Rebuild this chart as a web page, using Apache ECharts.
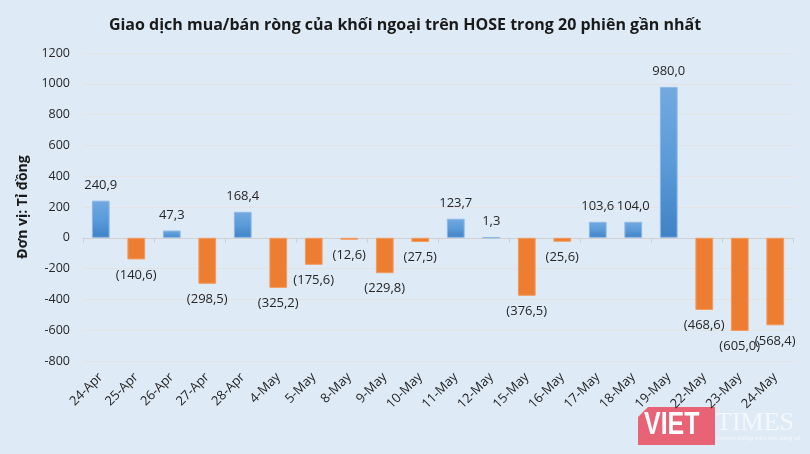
<!DOCTYPE html>
<html><head><meta charset="utf-8">
<script src="https://cdn.jsdelivr.net/npm/echarts@6/dist/echarts.min.js"></script>
<style>html,body{margin:0;padding:0;}#c{width:810px;height:454px;}</style>
</head><body><div id="c"></div>
<script>
const categories = ['24-Apr','25-Apr','26-Apr','27-Apr','28-Apr','4-May','5-May','8-May','9-May','10-May','11-May','12-May','15-May','16-May','17-May','18-May','19-May','22-May','23-May','24-May'];
const values = [240.9,-140.6,47.3,-298.5,168.4,-325.2,-175.6,-12.6,-229.8,-27.5,123.7,1.3,-376.5,-25.6,103.6,104.0,980.0,-468.6,-605.0,-568.4];
const yTicks = {min:-800, max:1200, interval:200};

const fmt = v => {
  const s = Math.abs(v).toFixed(1).replace('.', ',');
  return v < 0 ? '(' + s + ')' : s;
};
const blue = new echarts.graphic.LinearGradient(0,0,0,1,[{offset:0,color:'#72a9e0'},{offset:0.5,color:'#5b9bd9'},{offset:1,color:'#3f82c6'}]);
const chart = echarts.init(document.getElementById('c'));
chart.setOption({
  backgroundColor: '#deeaf6',
  animation: false,
  title: {text:'Giao dịch mua/bán ròng của khối ngoại trên HOSE trong 20 phiên gần nhất', left:'center', top:12,
    textStyle:{fontFamily:'Open Sans', fontWeight:'bold', fontSize:16, color:'#1a1a1a'}},
  grid: {left:83, right:17, top:53, bottom:93, containLabel:false, outerBoundsMode:'none'},
  xAxis: [{type:'category', data:categories, position:'bottom',
    axisLine:{show:false, onZero:false}, axisTick:{show:false},
    axisLabel:{rotate:45, interval:0, fontFamily:'Open Sans', fontSize:13, color:'#1f1f1f', margin:14}},
   {type:'category', data:categories, position:'bottom',
    axisLine:{show:true, onZero:true, lineStyle:{color:'#d0d0d0'}},
    axisTick:{show:true, length:5, lineStyle:{color:'#d0d0d0'}},
    axisLabel:{show:false}}],
  yAxis: {type:'value', min:yTicks.min, max:yTicks.max, interval:yTicks.interval,
    name:'Đơn vị: Tỉ đồng', nameLocation:'middle', nameGap:52,
    nameTextStyle:{fontFamily:'Open Sans', fontWeight:'bold', fontSize:14, color:'#1a1a1a'},
    axisLine:{show:false}, axisTick:{show:false},
    splitLine:{lineStyle:{color:'#e3e3e3'}},
    axisLabel:{fontFamily:'Open Sans', fontSize:12.5, color:'#262626', margin:13, formatter:v=>String(v)}},
  series: [{type:'bar', barWidth:'50%', xAxisIndex:0,
    data: values.map(v => ({value:v,
      itemStyle: v >= 0 ? {color:blue, borderColor:'#8ab8e6', borderWidth:1} : {color:'#ed7d31', borderColor:'#f29a5e', borderWidth:1},
      label:{show:true, position: v >= 0 ? 'top' : 'bottom', distance:9}})),
    label:{formatter:p=>fmt(p.value), fontFamily:'Open Sans', fontSize:13, color:'#262626'}
  }],
  graphic: [
    {type:'polygon', shape:{points:[[638,417],[648,407],[715,407],[715,445],[638,445]]}, style:{fill:'rgba(236,70,90,0.82)'}},
    {type:'text', left:644, top:409, scaleX:0.78, style:{text:'VIET', font:'bold 32px "Liberation Sans"', fill:'#ffffff'}},
    {type:'text', left:716, top:410, style:{text:'TIMES', font:'26px "Liberation Serif"', fill:'rgba(255,255,255,0.65)'}},
    {type:'text', left:716, top:435, style:{text:'Truyền thông trên nền tảng số', font:'italic 7px "Liberation Serif"', fill:'rgba(255,255,255,0.7)'}}
  ]
});
</script></body></html>
